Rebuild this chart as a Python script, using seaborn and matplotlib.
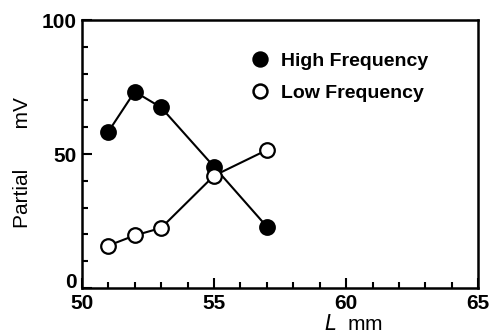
import matplotlib
matplotlib.use("Agg")
import matplotlib.pyplot as plt
import matplotlib.transforms as mtransforms
import seaborn as sns
import pandas as pd
from matplotlib.lines import Line2D
from matplotlib.ticker import MultipleLocator

L_mm = [51, 52, 53, 55, 57]
high_freq = [58.3, 73.3, 67.4, 45.3, 22.9]
low_freq = [15.8, 19.6, 22.4, 41.9, 51.5]
series_names = ["High Frequency", "Low Frequency"]
x_ticks = [50, 55, 60, 65]
y_ticks = [0, 50, 100]

sns.set_theme(style="white")
plt.rcParams['font.family'] = ['Liberation Sans', 'DejaVu Sans']
plt.rcParams['text.color'] = 'black'
plt.rcParams['axes.labelcolor'] = 'black'
plt.rcParams['xtick.color'] = 'black'
plt.rcParams['ytick.color'] = 'black'

df = pd.DataFrame({"L": L_mm * 2,
                   "v": high_freq + low_freq,
                   "s": [series_names[0]] * len(L_mm) + [series_names[1]] * len(L_mm)})

fig = plt.figure(figsize=(4.9, 3.36), dpi=100)
ax = fig.add_axes([0.167, 0.143, 0.809, 0.797])

for name, face in zip(series_names, ["black", "white"]):
    sub = df[df.s == name]
    sns.lineplot(data=sub, x="L", y="v", ax=ax, color="black", linewidth=1.5,
                 marker="o", markersize=10.5, markerfacecolor=face,
                 markeredgecolor="black", markeredgewidth=1.6, legend=False)

ax.set_xlim(50, 65)
ax.set_ylim(0, 100)
ax.set_xticks(x_ticks)
ax.set_yticks(y_ticks)
ax.xaxis.set_minor_locator(MultipleLocator(1))
ax.yaxis.set_minor_locator(MultipleLocator(10))
ax.tick_params(which="major", direction="in", length=7, width=1.5, labelsize=15,
               colors="black")
ax.tick_params(axis="x", which="major", pad=4)
ax.tick_params(axis="y", which="major", pad=4)
ax.tick_params(which="minor", direction="in", length=4, width=1.5, colors="black")
ax.tick_params(axis="x", which="both", bottom=True, top=False)
ax.tick_params(axis="y", which="both", left=True, right=False)
for lab in ax.get_xticklabels() + ax.get_yticklabels():
    lab.set_fontweight("bold")
# lift the "0" label slightly, as in the reference
zero_lab = ax.get_yticklabels()[0]
zero_lab.set_transform(zero_lab.get_transform() +
                       mtransforms.ScaledTranslation(0, 7 / 100, fig.dpi_scale_trans))
for sp in ax.spines.values():
    sp.set_linewidth(1.8)
    sp.set_color("black")

ax.set_ylabel("Partial       mV", fontsize=15, color="black")
ax.yaxis.set_label_coords(-0.125, 0.47)
ax.set_xlabel(r"$\it{L}$  mm", fontsize=15, color="black")
ax.xaxis.set_label_coords(0.684, -0.098)

handles = [Line2D([], [], linestyle="none", marker="o", markersize=10,
                  markerfacecolor=f, markeredgecolor="black", markeredgewidth=1.8)
           for f in ["black", "white"]]
leg = ax.legend(handles, series_names, loc="upper left", bbox_to_anchor=(0.38, 0.945),
                frameon=False, fontsize=14, handletextpad=0.6, labelspacing=0.75,
                handlelength=1.0)
for t in leg.get_texts():
    t.set_fontweight("bold")
    t.set_color("black")

fig.savefig("out.png", dpi=100)
